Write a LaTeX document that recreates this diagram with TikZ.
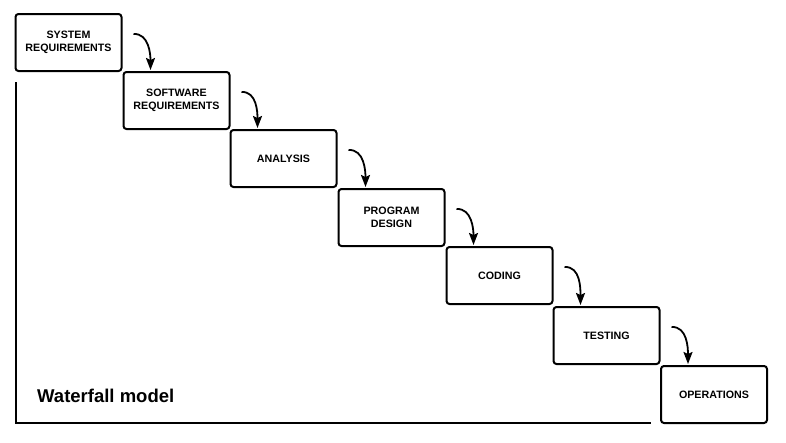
\documentclass[tikz,border=0pt]{standalone}
\usepackage{fontspec}
\setmainfont{Liberation Sans}
\usetikzlibrary{arrows.meta,calc}
\tikzset{
  stage/.style={draw, line width=2pt, rounded corners=3pt, minimum width=106pt, minimum height=57pt,
    align=center, font=\bfseries\fontsize{10.7}{13}\selectfont, inner sep=2pt},
  flow/.style={line width=1.8pt, -{Stealth[length=12pt,width=9pt,inset=2pt]}},
  axis/.style={line width=2.5pt}
}
\begin{document}
\begin{tikzpicture}[x=1pt,y=1pt]
\useasboundingbox (0,0) rectangle (786,-442);
\node[stage] (b1) at (68.5,-42.5) {SYSTEM\\REQUIREMENTS};
\node[stage] (b2) at (176.5,-100.5) {SOFTWARE\\REQUIREMENTS};
\node[stage] (b3) at (283.5,-158.5) {ANALYSIS};
\node[stage] (b4) at (391.5,-217.5) {PROGRAM\\DESIGN};
\node[stage] (b5) at (499.5,-275.5) {CODING};
\node[stage] (b6) at (606.5,-335.5) {TESTING};
\node[stage] (b7) at (714,-394.5) {OPERATIONS};
\foreach \a/\b in {b1/b2,b2/b3,b3/b4,b4/b5,b5/b6,b6/b7}{
  \coordinate (\a s) at ($(\a.north east)+(11,-21)$);
  \coordinate (\b e) at ($(\b.north west)+(28,1)$);
  \draw[flow] (\a s) to[out=3,in=90] (\b e);
}
\coordinate (ax0) at (16,-82);
\coordinate (ax1) at (16,-423);
\coordinate (ax2) at (651,-423);
\draw[axis] (ax0) -- (ax1) -- (ax2);
\node[anchor=west, font=\bfseries\fontsize{18.5}{22}\selectfont, inner sep=0pt] (title) at (37,-396) {Waterfall model};
\end{tikzpicture}
\end{document}
